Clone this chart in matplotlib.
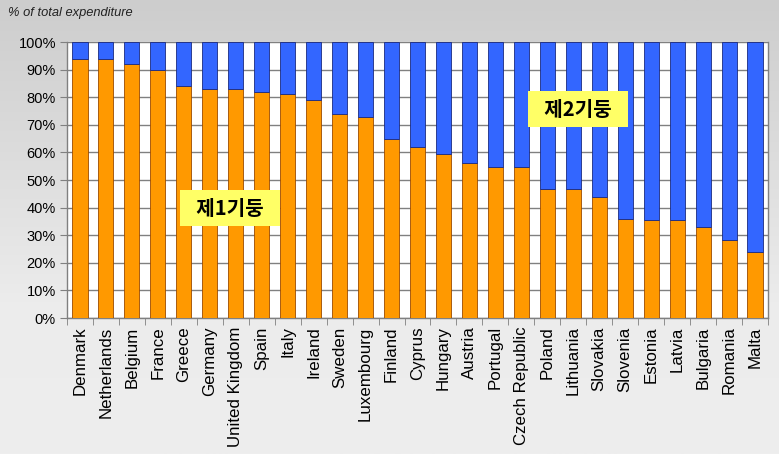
import numpy as np
import matplotlib.pyplot as plt
from matplotlib.colors import LinearSegmentedColormap

countries = ["Denmark", "Netherlands", "Belgium", "France", "Greece", "Germany",
             "United Kingdom", "Spain", "Italy", "Ireland", "Sweden", "Luxembourg",
             "Finland", "Cyprus", "Hungary", "Austria", "Portugal", "Czech Republic",
             "Poland", "Lithuania", "Slovakia", "Slovenia", "Estonia", "Latvia",
             "Bulgaria", "Romania", "Malta"]
pillar1 = [94, 94, 92, 90, 84, 83, 83, 82, 81, 79, 74, 73,
           65, 62, 59.3, 56, 54.6, 54.6, 46.9, 46.7, 44, 36, 35.5, 35.5,
           33, 28.1, 24]
pillar2 = [100 - v for v in pillar1]
yticks = list(range(0, 101, 10))
ytick_labels = [f"{t}%" for t in yticks]

plt.rcParams['font.family'] = ['Liberation Sans', 'Noto Sans CJK KR', 'DejaVu Sans']

fig = plt.figure(figsize=(7.79, 4.54), dpi=100)

# gray gradient background
bg = fig.add_axes([0, 0, 1, 1], zorder=-10)
grad = np.linspace(0, 1, 256).reshape(-1, 1)
cmap = LinearSegmentedColormap.from_list("bg", ["#cdcdcd", "#dcdcdc", "#ececec", "#eeeeee"])
bg.imshow(grad, aspect="auto", cmap=cmap, extent=[0, 1, 0, 1], origin="upper")
bg.axis("off")

ax = fig.add_axes([67 / 779, 1 - 318 / 454, (768 - 67) / 779, (318 - 42) / 454])
ax.set_facecolor("white")
x = np.arange(len(countries))
ax.bar(x, pillar1, width=0.58, color="#FF9900", edgecolor="#9a4a00", linewidth=0.6, zorder=3)
ax.bar(x, pillar2, width=0.58, bottom=pillar1, color="#3366FF", edgecolor="#1a2a80",
       linewidth=0.6, zorder=3)

ax.set_xlim(-0.5, len(countries) - 0.5)
ax.set_ylim(0, 100)
ax.set_yticks(yticks)
ax.set_yticklabels(ytick_labels, fontsize=10.5)
ax.yaxis.grid(True, color="#808080", linewidth=1.0, zorder=0)
ax.set_xticks(x)
ax.set_xticklabels(countries, rotation=90, fontsize=12.2)
ax.tick_params(axis="x", length=0, pad=6)
ax.set_xticks(np.arange(-0.5, len(countries)), minor=True)
ax.tick_params(axis="x", which="minor", length=5, color="#808080", direction="out")
ax.tick_params(axis="y", length=5, color="#808080", pad=3)
for s in ax.spines.values():
    s.set_color("#808080")
    s.set_linewidth(1.0)
ax.spines["top"].set_visible(False)

box = dict(boxstyle="square,pad=0.36", facecolor="#FFFF66", edgecolor="none")
ax.text(5.78, 39.8, "  제1기둥  ", fontsize=14.5, fontweight="bold", ha="center", va="center",
        family=["Noto Sans CJK KR", "DejaVu Sans"], zorder=5, bbox=box)
ax.text(19.18, 75.7, "  제2기둥  ", fontsize=14.5, fontweight="bold", ha="center", va="center",
        family=["Noto Sans CJK KR", "DejaVu Sans"], zorder=5, bbox=box)

fig.text(8 / 779, 1 - 13 / 454, "% of total expenditure", fontsize=9.3, style="italic",
         ha="left", va="center", color="#222222")

fig.savefig("out.png", dpi=100)
